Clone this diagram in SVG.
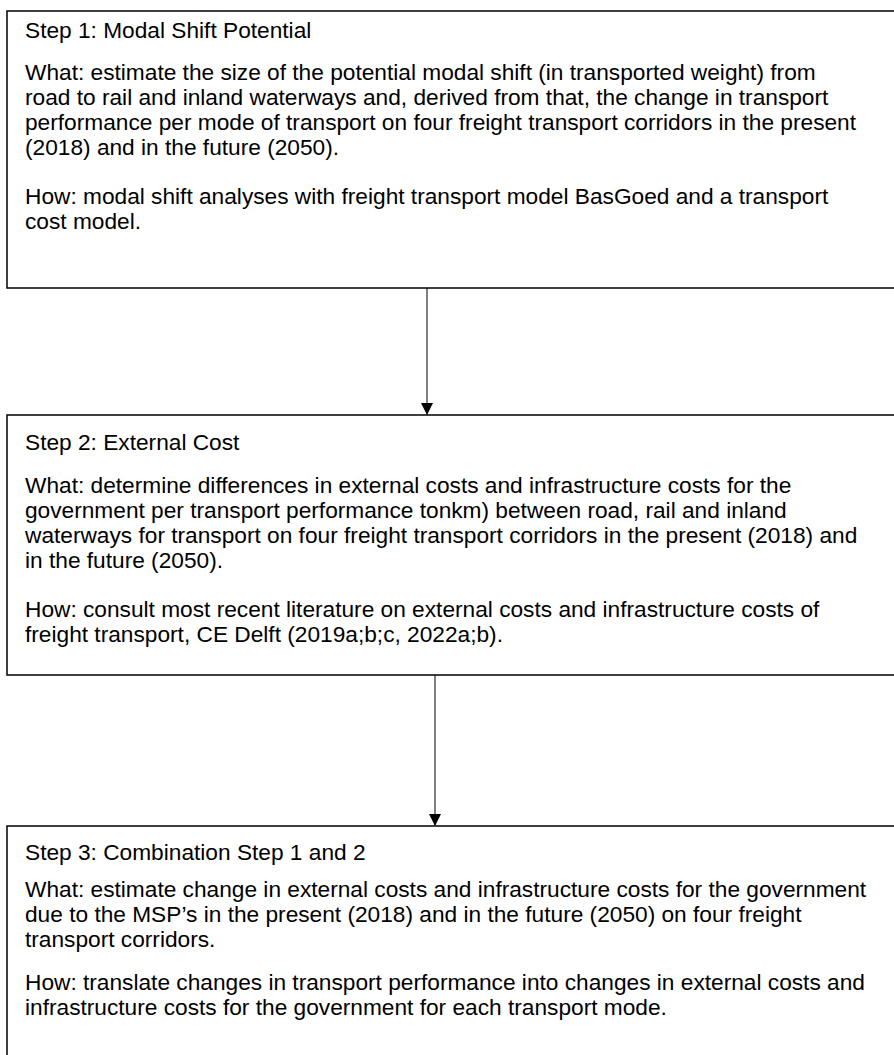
<svg xmlns="http://www.w3.org/2000/svg" width="894" height="1055" viewBox="0 0 894 1055">
<style>
.box{fill:#fff;stroke:#000;stroke-width:1.5}
.t{font-family:"Liberation Sans",Arial,sans-serif;font-size:22.7px;fill:#000}
.c{stroke:#000;stroke-width:1;fill:none}
</style>
<defs>
<marker id="ah" markerWidth="12" markerHeight="12" refX="11" refY="6" orient="auto" markerUnits="userSpaceOnUse">
<path d="M0,0 L12,6 L0,12 z" fill="#000"/>
</marker>
</defs>
<rect width="894" height="1055" fill="#fff"/>
<g id="step1">
<rect class="box" x="7" y="11" width="900" height="277"/>
<text class="t" x="25" y="38">Step 1: Modal Shift Potential</text>
<text class="t" x="25" y="80">What: estimate the size of the potential modal shift (in transported weight) from</text>
<text class="t" x="25" y="105">road to rail and inland waterways and, derived from that, the change in transport</text>
<text class="t" x="25" y="130">performance per mode of transport on four freight transport corridors in the present</text>
<text class="t" x="25" y="155">(2018) and in the future (2050).</text>
<text class="t" x="25" y="204">How: modal shift analyses with freight transport model BasGoed and a transport</text>
<text class="t" x="25" y="229">cost model.</text>
</g>
<g id="step2">
<rect class="box" x="7" y="415" width="900" height="260"/>
<text class="t" x="25" y="450">Step 2: External Cost</text>
<text class="t" x="25" y="493">What: determine differences in external costs and infrastructure costs for the</text>
<text class="t" x="25" y="518">government per transport performance tonkm) between road, rail and inland</text>
<text class="t" x="25" y="543">waterways for transport on four freight transport corridors in the present (2018) and</text>
<text class="t" x="25" y="568">in the future (2050).</text>
<text class="t" x="25" y="617">How: consult most recent literature on external costs and infrastructure costs of</text>
<text class="t" x="25" y="642">freight transport, CE Delft (2019a;b;c, 2022a;b).</text>
</g>
<g id="step3">
<rect class="box" x="7" y="826" width="900" height="260"/>
<text class="t" x="25" y="860">Step 3: Combination Step 1 and 2</text>
<text class="t" x="25" y="897">What: estimate change in external costs and infrastructure costs for the government</text>
<text class="t" x="25" y="922">due to the MSP’s in the present (2018) and in the future (2050) on four freight</text>
<text class="t" x="25" y="947">transport corridors.</text>
<text class="t" x="25" y="990">How: translate changes in transport performance into changes in external costs and</text>
<text class="t" x="25" y="1015">infrastructure costs for the government for each transport mode.</text>
</g>
<g id="connectors">
<line class="c" x1="427" y1="288" x2="427" y2="414" marker-end="url(#ah)"/>
<line class="c" x1="435" y1="675" x2="435" y2="825" marker-end="url(#ah)"/>
</g>
</svg>
